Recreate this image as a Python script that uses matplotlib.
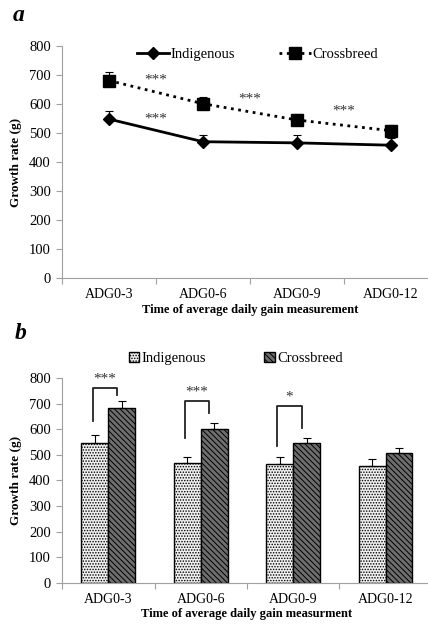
import numpy as np
from matplotlib import pyplot as plt
from matplotlib.patches import Patch

plt.rcParams["font.family"] = ["Liberation Serif", "DejaVu Serif"]
plt.rcParams["hatch.linewidth"] = 0.7

categories = ["ADG0-3", "ADG0-6", "ADG0-9", "ADG0-12"]
indigenous = [548, 470, 466, 458]
crossbreed = [681, 601, 545, 508]
indigenous_err = [28, 22, 26, 26]
crossbreed_err = [29, 24, 19, 19]

# significance marks
line_stars = ["***", "***", "***", "***"]
line_star_x = [0.5, 0.5, 1.5, 2.5]
line_star_y = [682, 549, 617, 575]
bar_stars = ["***", "***", "*"]
bracket_top = [760, 709, 692]
bracket_left = [633, 566, 533]
bracket_right = [735, 663, 605]

x = np.arange(len(categories))
grey = "#a0a0a0"

fig = plt.figure(figsize=(4.28, 6.27), dpi=100)


def style_axes(ax, xlabel):
    for s in ["top", "right"]:
        ax.spines[s].set_visible(False)
    ax.spines["left"].set_color(grey)
    ax.spines["bottom"].set_color(grey)
    ax.set_ylim(0, 800)
    ax.set_yticks(range(0, 801, 100))
    ax.set_xlim(-0.5, len(categories) - 0.5)
    ax.set_xticks(np.arange(len(categories) + 1) - 0.5)
    ax.set_xticklabels([])
    ax.set_xticks(x, minor=True)
    ax.set_xticklabels(categories, minor=True, fontsize=10)
    ax.tick_params(axis="x", which="minor", length=0, pad=7)
    ax.tick_params(axis="x", which="major", length=4, color=grey)
    ax.tick_params(axis="y", length=4, color=grey, labelsize=10.5, pad=4)
    ax.set_ylabel("Growth rate (g)", fontsize=9.5, fontweight="bold", labelpad=5)
    ax.set_xlabel(xlabel, fontsize=9, fontweight="bold", labelpad=2)


# panel a
ax1 = fig.add_axes([0.145, 0.5566, 0.878, 0.370])
ax1.errorbar(x, indigenous, yerr=[np.zeros(4), indigenous_err], fmt="none",
             ecolor="black", elinewidth=0.8, capsize=3, capthick=0.8)
ax1.errorbar(x, crossbreed, yerr=[np.zeros(4), crossbreed_err], fmt="none",
             ecolor="black", elinewidth=0.8, capsize=3, capthick=0.8)
ax1.plot(x, indigenous, "-", color="black", lw=2, marker="D", ms=6,
         label="Indigenous")
ax1.plot(x, crossbreed, ":", color="black", lw=2, marker="s", ms=8,
         label="Crossbreed")
for s, sx, sy in zip(line_stars, line_star_x, line_star_y):
    ax1.text(sx, sy, s, ha="center", va="center", fontsize=11, color="#333333")
style_axes(ax1, "Time of average daily gain measurement")
ax1.legend(loc="upper center", bbox_to_anchor=(0.52, 1.05), ncol=2, frameon=False,
           fontsize=10.5, handlelength=2.2, columnspacing=3, handletextpad=0.1)
fig.text(0.03, 0.992, "a", fontsize=17, fontweight="bold", style="italic",
         va="top")

# panel b
ax2 = fig.add_axes([0.145, 0.0702, 0.864, 0.327])
w = 0.29
ax2.bar(x - w / 2, indigenous, w, yerr=[np.zeros(4), indigenous_err],
        color="#efefef", edgecolor="black", linewidth=1, hatch="......",
        error_kw=dict(elinewidth=0.8, capsize=3, capthick=0.8))
ax2.bar(x + w / 2, crossbreed, w, yerr=[np.zeros(4), crossbreed_err],
        color="#6e6e6e", edgecolor="black", linewidth=1, hatch="\\\\\\\\\\\\",
        error_kw=dict(elinewidth=0.8, capsize=3, capthick=0.8))
for i, s in enumerate(bar_stars):
    lx = x[i] - 0.17
    rx = x[i] + 0.09
    ax2.plot([lx, lx, rx, rx], [bracket_left[i], bracket_top[i], bracket_top[i],
             bracket_right[i]], color="#222222", lw=1.3)
    ax2.text((lx + rx) / 2, bracket_top[i] + 10, s, ha="center", va="bottom",
             fontsize=11, color="#333333")
style_axes(ax2, "Time of average daily gain measurment")
handles = [Patch(facecolor="#efefef", edgecolor="black", hatch="......"),
           Patch(facecolor="#6e6e6e", edgecolor="black", hatch="\\\\\\\\\\\\")]
ax2.legend(handles, ["Indigenous", "Crossbreed"], loc="lower center",
           bbox_to_anchor=(0.47, 1.0), ncol=2, frameon=False, fontsize=10.5,
           handlelength=0.7, handleheight=0.7, columnspacing=4,
           handletextpad=0.2)
fig.text(0.035, 0.485, "b", fontsize=17, fontweight="bold", style="italic",
         va="top")

fig.savefig("out.png", dpi=100)
